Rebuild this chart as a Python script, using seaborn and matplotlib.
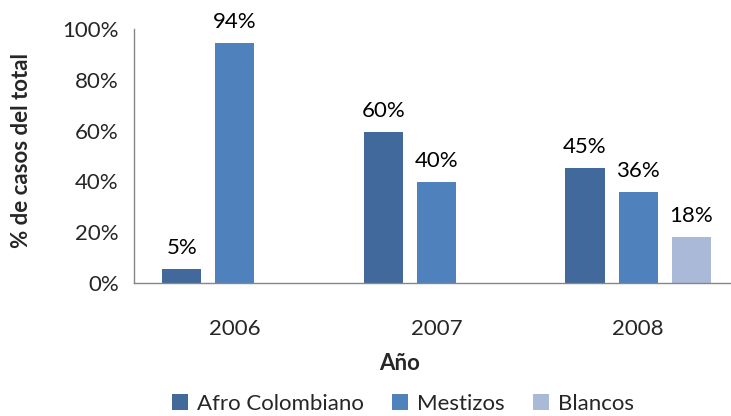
import numpy as np
import pandas as pd
import matplotlib
matplotlib.use("Agg")
import matplotlib.pyplot as plt
import seaborn as sns

# datos
anios = ["2006", "2007", "2008"]
grupos = ["Afro Colombiano", "Mestizos", "Blancos"]
afro = [5.4, 59.6, 45.4]
mestizos = [94.4, 39.8, 35.8]
blancos = [None, None, 18.2]
colores = ["#41699B", "#4F81BD", "#AAB9D8"]

filas = []
for g, vals in zip(grupos, [afro, mestizos, blancos]):
    for a, v in zip(anios, vals):
        if v is not None:
            filas.append({"anio": a, "grupo": g, "valor": v})
df = pd.DataFrame(filas)

sns.set_style("white")
plt.rcParams["font.family"] = ["Lato", "DejaVu Sans"]
fs = 16

fig = plt.figure(figsize=(7.31, 4.16), dpi=100)
ax = fig.add_axes([134 / 731, 133 / 416, 605 / 731, 254 / 416])

sns.barplot(data=df, x="anio", y="valor", hue="grupo", order=anios,
            hue_order=grupos, palette=colores, width=0.79, gap=0.26,
            saturation=1, errorbar=None, ax=ax, linewidth=0)

for cont in ax.containers:
    etiquetas = [f"{round(b.get_height())}%" for b in cont]
    ax.bar_label(cont, labels=etiquetas, padding=8, fontsize=fs, color="black")

ax.set_xlim(-0.5, 2.5)
ax.set_ylim(0, 100)
ax.set_yticks(np.arange(0, 101, 20))
ax.set_yticklabels([f"{v}%" for v in range(0, 101, 20)], fontsize=fs)
ax.set_xticks([0.5, 1.5, 2.5], minor=True)
ax.tick_params(axis="x", which="major", length=0, pad=26, labelsize=fs)
ax.tick_params(axis="x", which="minor", length=7, color="#868686", width=1)
ax.tick_params(axis="y", length=7, color="#868686", width=1, pad=4)

for s in ["top", "right"]:
    ax.spines[s].set_visible(False)
for s in ["left", "bottom"]:
    ax.spines[s].set_color("#868686")
    ax.spines[s].set_linewidth(1)

ax.set_ylabel("% de casos del total", fontsize=fs, fontweight="bold")
ax.yaxis.set_label_coords(-(134 - 32) / 605, (283 - 150) / 254)
ax.set_xlabel("Año", fontsize=fs, fontweight="bold")
ax.xaxis.set_label_coords((400 - 134) / 605, -(353 - 283) / 254)

ax.legend(loc="center", bbox_to_anchor=(403 / 731, 12 / 416),
          bbox_transform=fig.transFigure, ncol=3, frameon=False, fontsize=fs,
          handlelength=0.7, handleheight=0.7, handletextpad=0.4, columnspacing=1.3)

fig.savefig("out.png", dpi=100)
